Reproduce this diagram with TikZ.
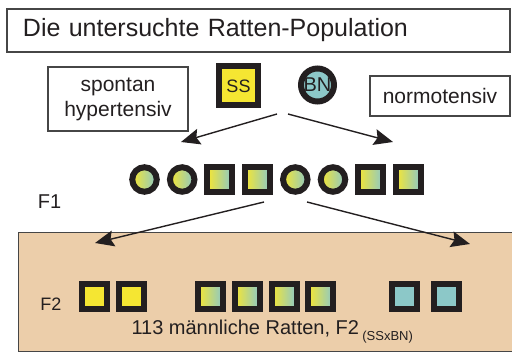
\documentclass[tikz,border=0pt]{standalone}
\usepackage{fontspec}
\setmainfont{Liberation Sans}
\usetikzlibrary{arrows.meta}
\definecolor{ratyellow}{RGB}{245,230,50}
\definecolor{ratteal}{RGB}{140,200,200}
\definecolor{ratbeige}{RGB}{236,206,170}
\definecolor{ratdark}{RGB}{35,31,32}
\definecolor{boxgray}{RGB}{70,70,70}
\newcommand{\fsize}[1]{\fontsize{#1}{#1}\selectfont}
\newcommand{\widthfone}{37.7pt}
\newcommand{\widthftwo}{36.8pt}
\tikzset{
    common/.style={draw=ratdark, line width=6pt, inner sep=0pt},
    sq/.style={common, rectangle, minimum size=25pt},
    rnd/.style={common, circle, minimum size=24.5pt},
    mixed/.style={left color=ratyellow, right color=ratteal},
    textbox/.style={draw=boxgray, line width=1.3pt, align=center, text=ratdark},
    cross/.style={-{Stealth[length=19pt,width=16pt,inset=3pt]}, line width=1.4pt, ratdark}
}
\begin{document}
\begin{tikzpicture}[x=1pt, y=-1pt]
\clip (0,0) rectangle (512,352);
\node[textbox, minimum width=503pt, minimum height=43pt, text width=471pt,
      align=left, font=\fsize{25}] (title) at (258.5,30.5) {Die untersuchte Ratten-Population};

\node[textbox, minimum width=140pt, minimum height=64pt,
      font=\fontsize{21}{25}\selectfont] (shr) at (118,99) {spontan\\hypertensiv};
\node[textbox, minimum width=140pt, minimum height=40pt, font=\fsize{21}] (norm) at (440,96) {normotensiv};

\node[common, rectangle, minimum size=39pt, fill=ratyellow, font=\fsize{18}, text=ratdark] (ss) at (238.5,86) {SS};
\node[common, circle, minimum size=33pt, fill=ratteal, font=\fsize{20}, text=ratdark] (bn) at (317.5,85) {BN};

% F1
\path (144.5,179.5) node[rnd, mixed] (f1a) {}
    ++(0:\widthfone) node[rnd, mixed] (f1b) {}
    ++(0:\widthfone) node[sq, mixed] (f1c) {}
    ++(0:\widthfone) node[sq, mixed] (f1d) {}
    ++(0:\widthfone) node[rnd, mixed] (f1e) {}
    ++(0:\widthfone) node[rnd, mixed] (f1f) {}
    ++(0:\widthfone) node[sq, mixed] (f1g) {}
    ++(0:\widthfone) node[sq, mixed] (f1h) {};
\node[text=ratdark, font=\fsize{20}] (fone) at (49.5,202) {F1};

% F2
\node[textbox, fill=ratbeige, anchor=north west, minimum width=520pt, minimum height=119pt] (gen2) at (18,232) {};
\node[text=ratdark, font=\fsize{18}] (ftwo) at (51,304.5) {F2};
\path (94.5,297) node[sq, fill=ratyellow] (f2a) {}
    ++(0:\widthftwo) node[sq, fill=ratyellow] (f2b) {}
    ++(0:2.15*\widthftwo) node[sq, mixed] (f2c) {}
    ++(0:\widthftwo) node[sq, mixed] (f2d) {}
    ++(0:\widthftwo) node[sq, mixed] (f2e) {}
    ++(0:\widthftwo) node[sq, mixed] (f2f) {}
    ++(0:2.27*\widthftwo) node[sq, fill=ratteal] (f2g) {}
    ++(0:1.14*\widthftwo) node[sq, fill=ratteal] (f2h) {};
\node[anchor=base west, text=ratdark, font=\fsize{20}] (count) at (128,335)
    {113 männliche Ratten, F2\,\raisebox{-6pt}{\fsize{13}(SSxBN)}};

% arrows
\coordinate (p0l) at (277,114);
\coordinate (p0r) at (288,114);
\coordinate (p1l) at (181,142);
\coordinate (p1r) at (393,142);
\coordinate (q0l) at (264,202);
\coordinate (q0r) at (307,202);
\coordinate (q1l) at (95,243);
\coordinate (q1r) at (470,244);
\draw[cross] (p0l) -- (p1l);
\draw[cross] (p0r) -- (p1r);
\draw[cross] (q0l) -- (q1l);
\draw[cross] (q0r) -- (q1r);
\end{tikzpicture}
\end{document}
